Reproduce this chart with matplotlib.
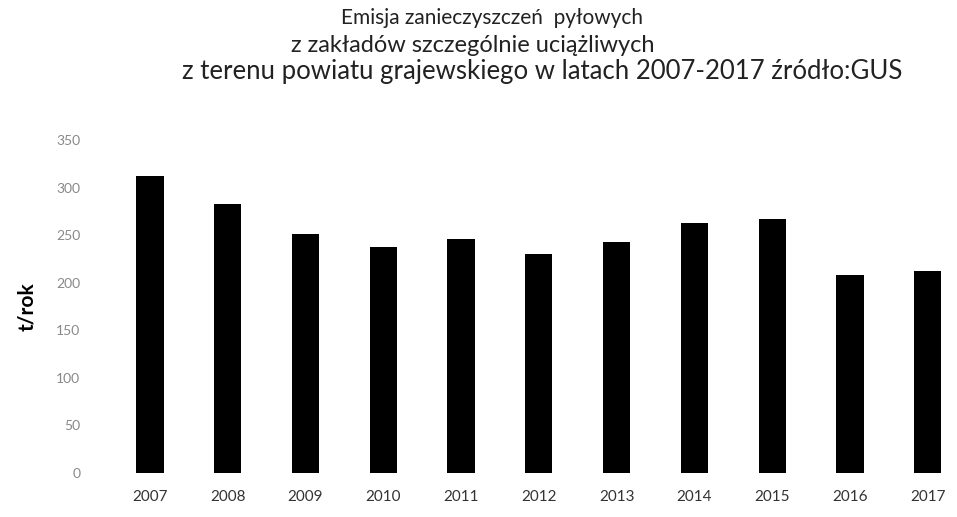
import matplotlib
matplotlib.use("Agg")
import matplotlib.pyplot as plt

plt.rcParams['font.family'] = ['Lato', 'DejaVu Sans']

years = ['2007', '2008', '2009', '2010', '2011', '2012',
         '2013', '2014', '2015', '2016', '2017']
emisja = [312, 283, 251, 238, 246, 230, 243, 263, 267, 208, 212]
y_ticks = [0, 50, 100, 150, 200, 250, 300, 350]

title_lines = ["Emisja zanieczyszczeń  pyłowych",
               "z zakładów szczególnie uciążliwych",
               "z terenu powiatu grajewskiego w latach 2007-2017 źródło:GUS"]

fig = plt.figure(figsize=(9.57, 5.17), dpi=100)
ax = fig.add_axes([0.116, 0.085, 0.894, 0.644])

ax.bar(range(len(years)), emisja, width=0.35, color='black')
ax.set_xlim(-0.5, len(years) - 0.5)
ax.set_ylim(0, 350)

ax.set_xticks(range(len(years)))
ax.set_xticklabels(years, fontsize=11, color='#333333')
ax.set_yticks(y_ticks)
ax.set_yticklabels([str(v) for v in y_ticks], fontsize=10, color='#888888')
ax.tick_params(axis='both', length=0)
ax.tick_params(axis='y', pad=22)
ax.tick_params(axis='x', pad=12)

for s in ax.spines.values():
    s.set_visible(False)

ax.set_ylabel('t/rok', fontsize=15, fontweight='bold', labelpad=14)

# the scanned title gets wider line by line
fig.text(0.514, 1 - 18 / 517, title_lines[0], ha='center', va='center',
         fontsize=15, color='#222222')
fig.text(0.494, 1 - 45 / 517, title_lines[1], ha='center', va='center',
         fontsize=17, color='#222222')
fig.text(0.567, 1 - 72 / 517, title_lines[2], ha='center', va='center',
         fontsize=18.5, color='#222222')

fig.savefig('out.png', dpi=100)
